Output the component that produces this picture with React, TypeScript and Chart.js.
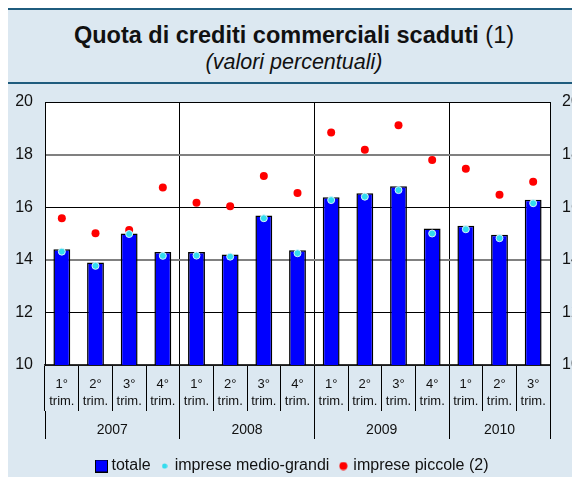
import React, { useEffect, useRef } from 'react';
import { Chart, registerables } from 'chart.js';

Chart.register(...registerables);

const years = ['2007', '2008', '2009', '2010'];
const quartersPerYear = [4, 4, 4, 3];
const quarterNames = ['1°', '2°', '3°', '4°'];
const totale = [14.4, 13.9, 15.0, 14.3, 14.3, 14.2, 15.68, 14.36, 16.38, 16.53, 16.8, 15.19, 15.29, 14.95, 16.28];
const medioGrandi = [14.31, 13.77, 14.98, 14.15, 14.16, 14.12, 15.58, 14.25, 16.27, 16.4, 16.65, 15.0, 15.16, 14.82, 16.15];
const piccole = [15.58, 15.01, 15.13, 16.75, 16.17, 16.04, 17.19, 16.54, 18.84, 18.18, 19.12, 17.79, 17.46, 16.47, 16.97];
const yMin = 10;
const yMax = 20;
const yStep = 2;
const seriesNames = ['totale', 'imprese medio-grandi', 'imprese piccole (2)'];

const FONT = '"Liberation Sans", Arial, Helvetica, sans-serif';

const categories = quartersPerYear.flatMap((n) => quarterNames.slice(0, n).map((q) => [q, 'trim.']));

const yearBounds: number[] = [-0.5];
quartersPerYear.forEach((n) => yearBounds.push(yearBounds[yearBounds.length - 1] + n));
const yearCenters = yearBounds.slice(0, -1).map((b, i) => (b + yearBounds[i + 1]) / 2);
const yearTickValues = [...yearBounds, ...yearCenters].sort((a, b) => a - b);
const isBound = (v: number) => yearBounds.some((b) => Math.abs(b - v) < 1e-6);
const yearLabel = (v: number) => {
  const i = yearCenters.findIndex((c) => Math.abs(c - v) < 1e-6);
  return i >= 0 ? years[i] : '';
};

function marker(kind: 'square' | 'cyan' | 'red'): HTMLCanvasElement {
  const c = document.createElement('canvas');
  if (kind === 'square') {
    c.width = 13; c.height = 13;
    const x = c.getContext('2d')!;
    x.fillStyle = '#0000ff';
    x.fillRect(0, 0, 13, 13);
    x.strokeStyle = '#000';
    x.lineWidth = 1;
    x.strokeRect(0.5, 0.5, 12, 12);
  } else if (kind === 'cyan') {
    c.width = 6; c.height = 6;
    const x = c.getContext('2d')!;
    x.fillStyle = '#33dcee';
    x.beginPath(); x.arc(3, 3, 2.6, 0, Math.PI * 2); x.fill();
  } else {
    c.width = 9; c.height = 9;
    const x = c.getContext('2d')!;
    x.fillStyle = '#ff0000';
    x.beginPath(); x.arc(4.5, 4.5, 4, 0, Math.PI * 2); x.fill();
  }
  return c;
}

const areaBg = {
  id: 'areaBg',
  beforeDraw(chart: any) {
    const { ctx, chartArea } = chart;
    ctx.save();
    ctx.fillStyle = '#ffffff';
    ctx.fillRect(chartArea.left, chartArea.top, chartArea.right - chartArea.left, chartArea.bottom - chartArea.top);
    ctx.restore();
  },
};

export default function App() {
  const ref = useRef<HTMLCanvasElement | null>(null);

  useEffect(() => {
    if (!ref.current) return;
    Chart.defaults.font.family = FONT;
    const markers = [marker('square'), marker('cyan'), marker('red')];
    const chart = new Chart(ref.current, {
      type: 'bar',
      data: {
        labels: categories,
        datasets: [
          {
            type: 'bar',
            label: seriesNames[0],
            data: totale,
            backgroundColor: '#0000ff',
            borderColor: '#000000',
            borderWidth: { top: 1.5, left: 1.5, right: 1.5, bottom: 0 },
            barPercentage: 0.5,
            categoryPercentage: 1,
            order: 3,
            xAxisID: 'x',
            yAxisID: 'y',
          },
          {
            type: 'line',
            label: seriesNames[1],
            data: medioGrandi,
            showLine: false,
            pointRadius: 3.5,
            pointBackgroundColor: '#33dcee',
            pointBorderColor: '#d6f5fa',
            pointBorderWidth: 1,
            order: 1,
            xAxisID: 'x',
            yAxisID: 'y',
          },
          {
            type: 'line',
            label: seriesNames[2],
            data: piccole,
            showLine: false,
            pointRadius: 4,
            pointBackgroundColor: '#ff0000',
            pointBorderWidth: 0,
            order: 2,
            xAxisID: 'x',
            yAxisID: 'y',
          },
        ] as any,
      },
      options: {
        animation: false,
        responsive: false,
        events: [],
        layout: { padding: { top: 18, left: 0, right: 0, bottom: -7 } },
        scales: {
          x: {
            type: 'category',
            position: 'bottom',
            weight: 0,
            offset: true,
            grid: { offset: true, drawOnChartArea: false, drawTicks: true, tickLength: 46, color: '#000', lineWidth: 1 },
            border: { display: true, color: '#333', width: 1.5 },
            ticks: { font: { size: 13, lineHeight: 1.3 }, color: '#111', padding: -35, maxRotation: 0, autoSkip: false },
            afterFit: (s: any) => { s.height = 46; },
          },
          years: {
            type: 'linear',
            position: 'bottom',
            weight: 1,
            min: -0.5,
            max: 14.5,
            offset: false,
            afterBuildTicks: (s: any) => { s.ticks = yearTickValues.map((v) => ({ value: v })); },
            grid: {
              offset: false,
              drawOnChartArea: true,
              drawTicks: true,
              tickLength: 28,
              color: (c: any) => (c.tick && isBound(c.tick.value) ? '#000' : 'rgba(0,0,0,0)'),
              lineWidth: 1,
            },
            border: { display: false },
            ticks: {
              callback: (v: any) => yearLabel(Number(v)),
              font: { size: 14, lineHeight: 1.2 },
              color: '#111',
              padding: -17,
              maxRotation: 0,
              autoSkip: false,
            },
            afterFit: (s: any) => { s.height = 35; },
          },
          y: {
            type: 'linear',
            position: 'left',
            min: yMin,
            max: yMax,
            ticks: { stepSize: yStep, font: { size: 16 }, color: '#111', padding: 0 },
            grid: {
              drawTicks: true,
              tickLength: 12,
              tickColor: 'rgba(0,0,0,0)',
              color: (c: any) => (c.tick && (c.tick.value === 14 || c.tick.value === 18) ? '#808080' : '#000'),
              lineWidth: (c: any) => (c.tick && (c.tick.value === 14 || c.tick.value === 18) ? 2 : 1),
            },
            border: { display: true, color: '#000', width: 1 },
            afterFit: (s: any) => { s.width = 37; },
          },
          yRight: {
            type: 'linear',
            position: 'right',
            min: yMin,
            max: yMax,
            ticks: { stepSize: yStep, font: { size: 16 }, color: '#111', padding: 0 },
            grid: { display: true, drawOnChartArea: false, drawTicks: true, tickLength: 12, tickColor: 'rgba(0,0,0,0)', color: 'rgba(0,0,0,0)' },
            border: { display: true, color: '#000', width: 1 },
            afterFit: (s: any) => { s.width = 30; },
          },
        },
        plugins: {
          tooltip: { enabled: false },
          title: { display: false },
          legend: {
            display: true,
            position: 'bottom',
            labels: {
              usePointStyle: true,
              boxWidth: 4,
              padding: 12,
              font: { size: 16 },
              color: '#111',
              generateLabels: () =>
                seriesNames.map((t, i) => ({
                  text: t,
                  pointStyle: markers[i] as any,
                  fillStyle: 'transparent',
                  strokeStyle: 'transparent',
                  lineWidth: 0,
                  hidden: false,
                  datasetIndex: i,
                  fontColor: '#111',
                })),
            },
          },
        },
      } as any,
      plugins: [areaBg],
    });
    return () => chart.destroy();
  }, []);

  return (
    <div
      style={{
        position: 'relative',
        width: 572,
        height: 467,
        background: '#dce8f1',
        borderTop: '2px solid #1f5c7e',
        fontFamily: FONT,
        color: '#111',
      }}
    >
      <div
        style={{
          position: 'absolute',
          right: 2,
          top: -22,
          height: 20,
          fontSize: 18,
          lineHeight: '20px',
          fontWeight: 'bold',
          fontStyle: 'italic',
          color: '#1a6f9a',
          whiteSpace: 'nowrap',
        }}
      >
        Figura 4.7
      </div>
      <div style={{ height: 72, borderBottom: '2px solid #1f5c7e', textAlign: 'center' }}>
        <div style={{ paddingTop: 12, fontSize: 23.5, lineHeight: '26px' }}>
          <b>Quota di crediti commerciali scaduti</b> (1)
        </div>
        <div style={{ marginTop: 2, fontSize: 21.5, lineHeight: '24px', fontStyle: 'italic' }}>(valori percentuali)</div>
      </div>
      <canvas ref={ref} width={572} height={393} style={{ display: 'block', width: 572, height: 393 }} />
    </div>
  );
}
